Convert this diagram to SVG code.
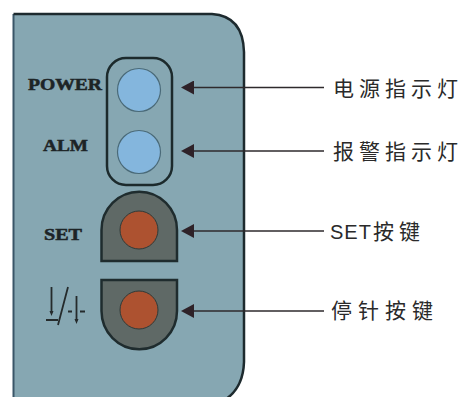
<svg xmlns="http://www.w3.org/2000/svg" width="462" height="397" viewBox="0 0 462 397">
<style>
.lab{font-family:"Liberation Serif",serif;font-weight:bold;font-size:16px;fill:#1d2426;stroke:#1d2426;stroke-width:.5px}
.cn{font-family:"Noto Sans CJK SC","Liberation Sans",sans-serif;font-size:21px;font-weight:400;fill:#2a2a2a;letter-spacing:5px}
.led{fill:#84b6dd;stroke:#4a6a78;stroke-width:1.2}
.btn{fill:#5f6966;stroke:#1f2c2e;stroke-width:2.5}
.red{fill:#ad5230;stroke:#2f3a38;stroke-width:1}
.ln{stroke:#2e2a2c;stroke-width:1.6;fill:none}
.ic{stroke:#252b2c;stroke-width:1.8;fill:none}
</style>
<defs><marker id="ah" markerUnits="userSpaceOnUse" markerWidth="14" markerHeight="14" refX="10" refY="7" orient="auto"><path d="M13 7L0 0V14Z" fill="#2e2228"/></marker></defs>
<rect width="462" height="397" fill="#fff"/>
<g id="panel"><path d="M13.500 14H212Q243 16 244 52V362Q243 392 219 403H13.500Z" fill="#86a7b2"/><path d="M13.500 403V14" stroke="#3a5668" stroke-width="2" fill="none"/><path d="M13.500 14H212Q243 16 244 52V362Q243 392 219 403" stroke="#1d2a2e" stroke-width="2.500" fill="none"/></g>
<g id="indicators"><rect x="107" y="58" width="65" height="127" rx="19" fill="none" stroke="#1c2a2c" stroke-width="2.500"/></g>
<g id="power"><circle class="led" cx="139" cy="90" r="21.500"/><text class="lab" x="28" y="90" textLength="74" lengthAdjust="spacingAndGlyphs">POWER</text></g>
<g id="alm"><circle class="led" cx="139" cy="152" r="21.500"/><text class="lab" x="43" y="151" textLength="45" lengthAdjust="spacingAndGlyphs">ALM</text></g>
<g id="set"><path class="btn" d="M101.500 261V230A37.500 38 0 0 1 177 230V261Z"/><circle class="red" cx="139" cy="230" r="19"/><text class="lab" x="44" y="240" textLength="38" lengthAdjust="spacingAndGlyphs">SET</text></g>
<g id="stop"><path class="btn" d="M101.500 280V311A37.500 38 0 0 0 177 311V280Z"/><circle class="red" cx="139" cy="310" r="19"/>
<g id="stop-icon"><path class="ic" d="M51.500 287V313M46 320H58M68 287L58 325M68 311.500H72M80 311.500H85M76.500 296V321"/><path d="M49.500 311L53.500 311L51.500 316ZM74.500 319H78.500L76.500 324Z" fill="#252b2c"/></g></g>
<g id="connectors"><path class="ln" d="M324 87.500H184" marker-end="url(#ah)"/><path class="ln" d="M324 151H184" marker-end="url(#ah)"/><path class="ln" d="M324 231H184" marker-end="url(#ah)"/><path class="ln" d="M324 311H184" marker-end="url(#ah)"/></g>
<g id="labels"><text class="cn" x="333" y="96">电源指示灯</text><text class="cn" x="333" y="159">报警指示灯</text><text class="cn" x="330" y="239"><tspan font-family="Liberation Sans" font-size="20" letter-spacing="1">SET</tspan><tspan dx="1">按键</tspan></text><text class="cn" x="331" y="318" style="letter-spacing:6px">停针按键</text></g>
</svg>
